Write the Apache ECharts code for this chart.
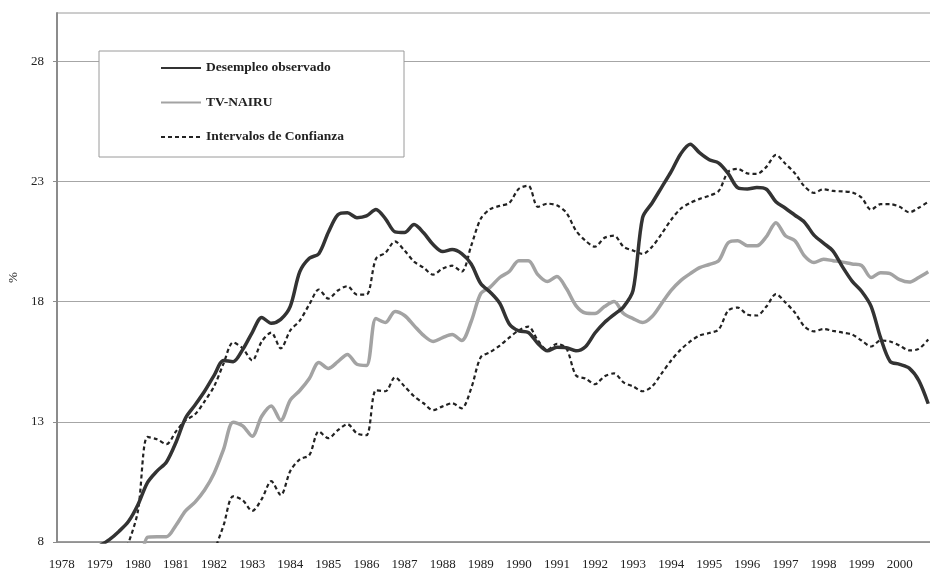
<!DOCTYPE html>
<html lang="es">

<head>
  <meta charset="UTF-8">
  <meta name="viewport" content="width=device-width, initial-scale=1.0">
  <title>Desempleo observado y TV-NAIRU</title>
  <style>
    html, body {
      margin: 0;
      padding: 0;
      background: #fff;
    }

    #chart {
      width: 930px;
      height: 571px;
    }
  </style>
  <script src="https://cdn.jsdelivr.net/npm/echarts@6.0.0/dist/echarts.min.js"></script>
</head>

<body>
  <div id="chart"></div>

  <script>
    // quarterly data, 1978Q1 - 2000Q4
    const years = [1978, 1979, 1980, 1981, 1982, 1983, 1984, 1985, 1986, 1987, 1988, 1989,
      1990, 1991, 1992, 1993, 1994, 1995, 1996, 1997, 1998, 1999, 2000];
    const quarters = ['T1', 'T2', 'T3', 'T4'];

    // y axis labels that are shown
    const yTicks = [8, 13, 18, 23, 28];

    const desempleo = [
      null, null, null, null, 7.85, 8.1, 8.44, 8.85,
      9.55, 10.47, 10.95, 11.33, 12.15, 13.16, 13.7, 14.27,
      14.93, 15.55, 15.5, 16.0, 16.71, 17.34, 17.1, 17.26,
      17.8, 19.24, 19.8, 19.99, 20.88, 21.61, 21.69, 21.49,
      21.56, 21.83, 21.44, 20.9, 20.87, 21.2, 20.86, 20.37,
      20.08, 20.16, 19.99, 19.56, 18.75, 18.39, 17.93, 17.07,
      16.78, 16.71, 16.26, 15.95, 16.1, 16.08, 15.95, 16.12,
      16.69, 17.13, 17.46, 17.78, 18.46, 21.49, 22.1, 22.75,
      23.4, 24.14, 24.54, 24.18, 23.9, 23.76, 23.32, 22.73,
      22.68, 22.74, 22.67, 22.15, 21.88, 21.59, 21.3, 20.76,
      20.43, 20.1, 19.44, 18.85, 18.43, 17.8, 16.49, 15.51,
      15.39, 15.23, 14.72, 13.75
    ];

    const nairu = [
      null, null, null, null, null, null, null, null,
      6.0, 8.2, 8.22, 8.22, 8.7, 9.29, 9.66, 10.16,
      10.86, 11.86, 12.98, 12.83, 12.4, 13.23, 13.66, 13.06,
      13.9, 14.3, 14.8, 15.47, 15.22, 15.5, 15.8, 15.39,
      15.34, 17.29, 17.13, 17.59, 17.42, 17.0, 16.59, 16.34,
      16.5, 16.63, 16.38, 17.17, 18.33, 18.6, 19.0, 19.25,
      19.7, 19.7, 19.12, 18.83, 19.04, 18.54, 17.83, 17.52,
      17.5, 17.79, 18.0, 17.5, 17.29, 17.13, 17.38, 17.92,
      18.46, 18.87, 19.16, 19.41, 19.54, 19.7, 20.45, 20.53,
      20.32, 20.32, 20.7, 21.28, 20.74, 20.53, 19.9, 19.62,
      19.76, 19.7, 19.64, 19.56, 19.5, 19.0, 19.2, 19.16,
      18.91, 18.81, 19.0, 19.24
    ];

    const intervaloSup = [
      null, null, null, null, null, null, 7.0, 7.95,
      9.29, 12.37, 12.27, 12.07, 12.6, 13.06, 13.31, 13.85,
      14.47, 15.43, 16.3, 16.05, 15.55, 16.34, 16.71, 16.05,
      16.8, 17.21, 17.88, 18.5, 18.12, 18.46, 18.64, 18.29,
      18.29, 19.78, 20.03, 20.5, 20.12, 19.66, 19.41, 19.12,
      19.37, 19.49, 19.24, 20.32, 21.44, 21.84, 21.98, 22.1,
      22.69, 22.82, 21.94, 22.07, 22.0, 21.69, 20.95, 20.53,
      20.28, 20.65, 20.74, 20.28, 20.12, 19.98, 20.28, 20.82,
      21.4, 21.86, 22.1, 22.27, 22.4, 22.6, 23.4, 23.52,
      23.33, 23.31, 23.6, 24.1, 23.73, 23.33, 22.79, 22.52,
      22.67, 22.6, 22.58, 22.54, 22.32, 21.82, 22.05, 22.05,
      21.94, 21.71, 21.9, 22.15
    ];

    const intervaloInf = [
      null, null, null, null, null, null, null, null,
      null, null, null, null, null, null, null, null,
      7.6, 8.7, 9.9, 9.74, 9.29, 9.78, 10.53, 9.95,
      10.95, 11.44, 11.61, 12.6, 12.32, 12.65, 12.9, 12.52,
      12.44, 14.31, 14.27, 14.85, 14.47, 14.06, 13.77, 13.48,
      13.64, 13.77, 13.56, 14.39, 15.68, 15.9, 16.17, 16.5,
      16.8, 16.96, 16.38, 15.99, 16.24, 16.05, 14.93, 14.8,
      14.56, 14.89, 15.01, 14.64, 14.47, 14.27, 14.47, 15.01,
      15.55, 16.0, 16.34, 16.59, 16.69, 16.84, 17.63, 17.75,
      17.46, 17.42, 17.79, 18.31, 17.96, 17.54, 16.96, 16.76,
      16.86, 16.78, 16.71, 16.63, 16.38, 16.13, 16.38, 16.34,
      16.17, 15.97, 16.03, 16.42
    ];

    const categories = [];
    years.forEach(function (y) {
      quarters.forEach(function (q) {
        categories.push(y + q);
      });
    });

    const serif = 'Liberation Serif';
    const ciName = 'Intervalos de Confianza';

    let myChart = echarts.init(document.getElementById('chart'));

    let option = {
      animation: false,
      backgroundColor: '#fff',
      textStyle: { fontFamily: serif },
      grid: {
        left: 57,
        top: 13,
        bottom: 29,
        width: 876,
        outerBoundsMode: 'none',
        containLabel: false,
        show: true,
        borderColor: '#9a9a9a',
        borderWidth: 1
      },
      // legend frame
      graphic: [
        {
          type: 'rect',
          z: 3,
          shape: { x: 99, y: 51, width: 305, height: 106 },
          style: { fill: '#fff', stroke: '#9a9a9a', lineWidth: 1 }
        }
      ],
      legend: {
        left: 160,
        top: 61,
        orient: 'vertical',
        padding: 0,
        itemWidth: 40,
        itemHeight: 14,
        itemGap: 20.5,
        data: ['Desempleo observado', 'TV-NAIRU', ciName],
        itemStyle: { opacity: 0 },
        textStyle: {
          fontFamily: serif,
          fontSize: 13.5,
          fontWeight: 'bold',
          color: '#222'
        }
      },
      xAxis: {
        type: 'category',
        data: categories,
        boundaryGap: true,
        axisLine: { lineStyle: { color: '#8c8c8c', width: 1.5 } },
        axisTick: { interval: 0, length: 4, lineStyle: { color: '#8c8c8c' } },
        axisLabel: {
          interval: 3,
          margin: 16,
          fontFamily: serif,
          fontSize: 13,
          color: '#222',
          formatter: function (v) { return v.slice(0, 4); }
        },
        splitLine: { show: false }
      },
      yAxis: {
        type: 'value',
        min: 8,
        max: 30,
        interval: 5,
        name: '%',
        nameLocation: 'middle',
        nameRotate: 90,
        nameGap: 36,
        nameTextStyle: { fontFamily: serif, fontSize: 13, color: '#222' },
        axisLine: { show: true, lineStyle: { color: '#8c8c8c', width: 2 } },
        axisTick: { show: true, length: 4, customValues: yTicks, lineStyle: { color: '#8c8c8c' } },
        axisLabel: {
          margin: 13,
          fontFamily: serif,
          fontSize: 13,
          color: '#222',
          formatter: function (v) { return yTicks.indexOf(v) >= 0 ? String(v) : ''; }
        },
        splitLine: { lineStyle: { color: '#a6a6a6', width: 1 } }
      },
      series: [
        {
          name: 'Desempleo observado',
          type: 'line',
          data: desempleo,
          symbol: 'none',
          smooth: 0.3,
          z: 5,
          lineStyle: { color: '#333', width: 3.5 },
          itemStyle: { color: '#333' }
        },
        {
          name: 'TV-NAIRU',
          type: 'line',
          data: nairu,
          symbol: 'none',
          smooth: 0.3,
          z: 4,
          lineStyle: { color: '#a3a3a3', width: 3.5 },
          itemStyle: { color: '#a3a3a3' }
        },
        {
          name: ciName,
          type: 'line',
          data: intervaloSup,
          symbol: 'none',
          smooth: 0.3,
          lineStyle: { color: '#222', width: 2.2, type: [4, 3] },
          itemStyle: { color: '#222' }
        },
        {
          name: ciName,
          type: 'line',
          data: intervaloInf,
          symbol: 'none',
          smooth: 0.3,
          lineStyle: { color: '#222', width: 2.2, type: [4, 3] },
          itemStyle: { color: '#222' }
        }
      ]
    };

    myChart.setOption(option);

    window.onresize = function () {
      myChart.resize();
    };
  </script>
</body>

</html>
